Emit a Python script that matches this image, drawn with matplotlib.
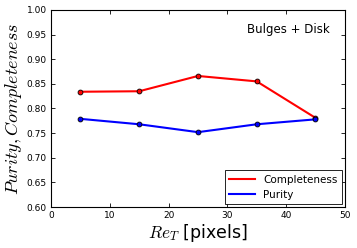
import matplotlib
matplotlib.use("Agg")
import matplotlib.pyplot as plt

plt.rcParams["mathtext.fontset"] = "cm"

# data
re_t = [5, 15, 25, 35, 45]
completeness = [0.834, 0.835, 0.866, 0.855, 0.781]
purity = [0.779, 0.768, 0.752, 0.768, 0.778]

fig = plt.figure(figsize=(3.57, 2.48), dpi=100)
ax = fig.add_axes([0.143, 0.165, 0.823, 0.795])

ax.plot(re_t, completeness, color="red", lw=1.5, label="Completeness")
ax.plot(re_t, purity, color="blue", lw=1.5, label="Purity")
ax.plot(re_t, completeness, "o", color="red", mec="black", mew=0.6, ms=3.5)
ax.plot(re_t, purity, "o", color="blue", mec="black", mew=0.6, ms=3.5)

ax.set_xlim(0, 50)
ax.set_ylim(0.6, 1.0)
ax.set_xticks([0, 10, 20, 30, 40, 50])
ax.set_yticks([0.60, 0.65, 0.70, 0.75, 0.80, 0.85, 0.90, 0.95, 1.00])
ax.set_yticklabels(["%.2f" % v for v in ax.get_yticks()])
ax.tick_params(direction="in", labelsize=6.5, top=True, right=True, length=3, width=0.6, pad=3)
for s in ax.spines.values():
    s.set_linewidth(0.8)

ax.set_xlabel(r"$Re_T$ [pixels]", fontsize=12.5, labelpad=1)
ax.set_ylabel(r"$Purity, Completeness$", fontsize=13, labelpad=2)

ax.text(0.95, 0.9, "Bulges + Disk", transform=ax.transAxes, ha="right", va="center", fontsize=8.5)

leg = ax.legend(loc="lower right", fontsize=7.5, fancybox=False, framealpha=1, edgecolor="black",
                handlelength=2.5, borderaxespad=0.3)
leg.get_frame().set_linewidth(0.6)

fig.savefig("out.png", dpi=100)
